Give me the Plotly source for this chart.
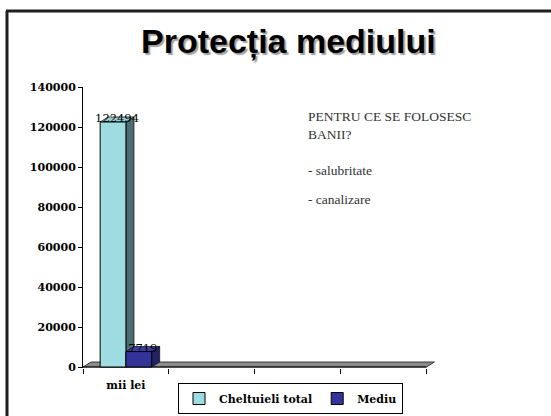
import plotly.graph_objects as go

# ---- data ----
category_label = "mii lei"
series_names = ["Cheltuieli total", "Mediu"]
series_values = [122494, 7719]
y_ticks = [0, 20000, 40000, 60000, 80000, 100000, 120000, 140000]
y_tick_labels = ["0", "20000", "40000", "60000", "80000", "100000", "120000", "140000"]
title_text = "Protecția mediului"
side_notes = ["PENTRU CE SE FOLOSESC<br>BANII?", "- salubritate", "- canalizare"]

# ---- styling ----
front_colors = ["#9DDCE0", "#333399"]
side_colors = ["#4C6D72", "#222266"]
top_colors = ["#93D2D6", "#3D3DA6"]

W, H = 551, 416
ML, MR, MT, MB = 83, 116, 87, 48
PW, PH = W - ML - MR, H - MT - MB
XR = [0, 4.1]
YR = [-500, 140000]


def px_x(px):
    return (px - ML) / PW


def px_y(py):
    return (H - MB - py) / PH


# depth of the pseudo-3D effect, in data units (~8px right, ~5px up)
DX = 8 * (XR[1] - XR[0]) / PW
DY = 5 * (YR[1] - YR[0]) / PH

cat_center = 0.5
bar_w = 0.3
offsets = [-bar_w, 0.0]

fig = go.Figure()
for name, val, col, off in zip(series_names, series_values, front_colors, offsets):
    fig.add_trace(go.Bar(
        x=[cat_center], y=[val], name=name, width=bar_w, offset=off,
        marker=dict(color=col, line=dict(color="black", width=1)),
        hoverinfo="skip",
    ))

shapes = []
# floor
shapes.append(dict(type="path", xref="x", yref="y", layer="below",
                   path=f"M 0,0 L 4,0 L {4 + DX},{DY} L {DX},{DY} Z",
                   fillcolor="#8C8C8C", line=dict(color="#3A3A3A", width=1)))
shapes.append(dict(type="line", xref="x", yref="y", layer="below",
                   x0=0, x1=4, y0=0, y1=0, line=dict(color="black", width=1)))
# 3D faces of bars
label_x, label_y = [], []
for val, off, sc, tc in zip(series_values, offsets, side_colors, top_colors):
    x0 = cat_center + off
    x1 = x0 + bar_w
    shapes.append(dict(type="path", xref="x", yref="y", layer="below",
                       path=f"M {x1},0 L {x1 + DX},{DY} L {x1 + DX},{val + DY} L {x1},{val} Z",
                       fillcolor=sc, line=dict(color="#111", width=0.8)))
    shapes.append(dict(type="path", xref="x", yref="y", layer="below",
                       path=f"M {x0},{val} L {x1},{val} L {x1 + DX},{val + DY} L {x0 + DX},{val + DY} Z",
                       fillcolor=tc, line=dict(color="#111", width=0.8)))
    label_x.append((x0 + x1) / 2 + DX / 2)
    label_y.append(val + DY / 2)

# slide frame
shapes.append(dict(type="line", xref="paper", yref="paper",
                   x0=px_x(6), x1=px_x(W), y0=px_y(11), y1=px_y(11),
                   line=dict(color="#1E1E1E", width=3)))
shapes.append(dict(type="line", xref="paper", yref="paper",
                   x0=px_x(7), x1=px_x(7), y0=px_y(11), y1=px_y(H),
                   line=dict(color="#1E1E1E", width=3)))

fig.add_trace(go.Scatter(
    x=label_x, y=label_y, mode="text",
    text=[str(v) for v in series_values],
    textfont=dict(family="DejaVu Serif", size=11.5, color="black"),
    showlegend=False, hoverinfo="skip", cliponaxis=False,
))

annotations = []
annotations.append(dict(text=title_text, xref="paper", yref="paper",
                        x=px_x(288), y=px_y(42), xanchor="center", yanchor="middle",
                        showarrow=False,
                        font=dict(family="Liberation Sans", size=34, color="black", weight="bold",
                                  shadow="2px 2px 1px #A0A0A0")))
note_y = [125.5, 170, 199]
for t, yy in zip(side_notes, note_y):
    annotations.append(dict(text=t, xref="paper", yref="paper", x=px_x(306), y=px_y(yy),
                            xanchor="left", yanchor="middle", align="left", showarrow=False,
                            font=dict(family="Liberation Serif", size=13.5, color="#333333")))

fig.update_layout(
    width=W, height=H,
    margin=dict(l=ML, r=MR, t=MT, b=MB, autoexpand=False),
    paper_bgcolor="white", plot_bgcolor="white",
    barmode="overlay",
    shapes=shapes,
    annotations=annotations,
    showlegend=True,
    legend=dict(orientation="h", xref="container", yref="container",
                x=290.5 / W, y=1 - 383 / H, xanchor="center", yanchor="top",
                bordercolor="black", borderwidth=1, bgcolor="white",
                font=dict(family="DejaVu Serif", size=11, color="black", weight="bold"),
                itemwidth=30, traceorder="normal"),
    xaxis=dict(range=XR, showgrid=False, zeroline=False, showline=False, automargin=False,
               tickmode="array", tickvals=[cat_center], ticktext=[category_label],
               ticks="", ticklabelstandoff=9,
               tickfont=dict(family="DejaVu Serif", size=11, color="black", weight="bold"),
               minor=dict(tickmode="array", tickvals=[0, 1, 2, 3, 4], ticks="outside",
                          ticklen=5, tickcolor="black", showgrid=False),
               fixedrange=True),
    yaxis=dict(range=YR, showgrid=False, zeroline=False, showline=True, linecolor="black",
               automargin=False,
               tickmode="array", tickvals=y_ticks, ticktext=y_tick_labels,
               ticks="outside", ticklen=4, tickcolor="black",
               tickfont=dict(family="DejaVu Serif", size=11, color="black", weight="bold"),
               fixedrange=True),
)

fig.write_html("out.html", config={"displayModeBar": False},
               post_script="document.body.style.margin='0';")
